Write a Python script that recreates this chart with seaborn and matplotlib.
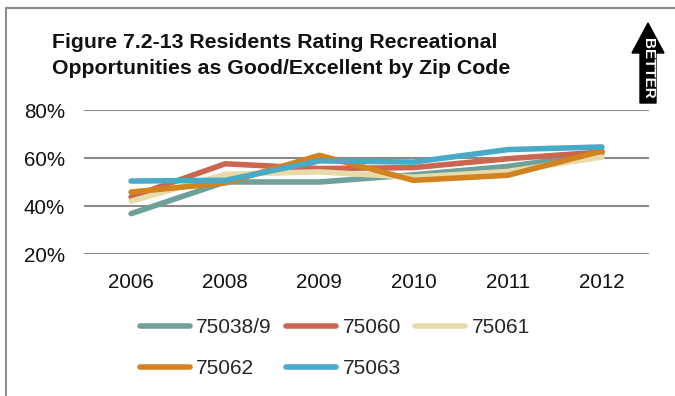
import matplotlib
matplotlib.use("Agg")
import matplotlib.pyplot as plt
from matplotlib.lines import Line2D
from matplotlib.patches import Polygon
import pandas as pd
import seaborn as sns

# Share of residents rating recreational opportunities good/excellent (%)
years = ["2006", "2008", "2009", "2010", "2011", "2012"]
zips = ["75038/9", "75060", "75061", "75062", "75063"]
r_75038_9 = [36.8, 50.0, 50.0, 53.0, 56.5, 61.8]
r_75060 = [43.8, 57.6, 55.6, 56.0, 59.7, 62.5]
r_75061 = [42.0, 53.2, 54.2, 52.0, 54.4, 60.4]
r_75062 = [45.8, 49.6, 61.1, 50.7, 52.8, 62.9]
r_75063 = [50.4, 50.7, 58.8, 58.3, 63.5, 64.6]
colors = ["#6FA09A", "#CB6650", "#E9DBA9", "#D2831F", "#48AAC6"]
yticks = [20, 40, 60, 80]

series = [r_75038_9, r_75060, r_75061, r_75062, r_75063]
df = pd.DataFrame(
    [(z, y, v) for z, vals in zip(zips, series) for y, v in zip(years, vals)],
    columns=["Zip", "Year", "Rating"],
)

sns.set_theme(style="white")
plt.rcParams["font.family"] = ["Liberation Sans", "DejaVu Sans"]

W, H = 675, 396
LW = 4.0
fig = plt.figure(figsize=(W / 100, H / 100), dpi=100)
ax = fig.add_axes([84 / W, 1 - 254 / H, (649 - 84) / W, (254 - 110) / H])

sns.lineplot(
    data=df, x="Year", y="Rating", hue="Zip", hue_order=zips,
    palette=colors, linewidth=LW, ax=ax, legend=False, sort=False,
    solid_capstyle="round",
)

ax.set_xlim(-0.5, len(years) - 0.5)
ax.set_ylim(20, 80)
ax.set_yticks(yticks)
ax.set_yticklabels([f"{t}%" for t in yticks])
ax.set_xlabel("")
ax.set_ylabel("")
for t in yticks:
    ax.axhline(t, color="#8A8A8A", linewidth=1.5, zorder=0)
for s in ax.spines.values():
    s.set_visible(False)
ax.tick_params(axis="y", length=0, pad=13.5, labelsize=14.8, labelcolor="#111111")
ax.tick_params(axis="x", length=0, pad=14, labelsize=14.8, labelcolor="#111111")

# Legend, filled row by row
handles = [Line2D([], [], color=c, linewidth=LW, solid_capstyle="round") for c in colors]
order = [0, 3, 1, 4, 2]
fig.legend(
    [handles[i] for i in order], [zips[i] for i in order],
    ncol=3, loc="upper left", bbox_to_anchor=(139.5 / W, 1 - 318 / H),
    frameon=False, fontsize=15, handlelength=2.4, handletextpad=0.32,
    columnspacing=0.67, labelspacing=1.05, borderpad=0, borderaxespad=0,
)

# Title
title_kw = dict(fontsize=15.3, fontweight="bold", color="#111111", va="baseline", ha="left")
fig.text(52 / W, 1 - 48.5 / H, "Figure 7.2-13 Residents Rating Recreational", **title_kw)
fig.text(52 / W, 1 - 73.5 / H, "Opportunities as Good/Excellent by Zip Code", **title_kw)

# "BETTER" arrow
arrow_pts = [(648, 23), (664, 53), (656, 53), (656, 103), (640, 103), (640, 53), (632, 53)]
fig.patches.append(Polygon([(x / W, 1 - y / H) for x, y in arrow_pts], closed=True,
                           facecolor="black", edgecolor="black",
                           transform=fig.transFigure, figure=fig))
fig.text(648 / W, 1 - 68 / H, "BETTER", rotation=-90, color="white", fontsize=11,
         fontweight="bold", ha="center", va="center")

# Frame around the figure
fig.add_artist(Line2D([6 / W, 6 / W], [0, 1 - 8 / H], color="#8C8C8C", linewidth=1.5,
                      transform=fig.transFigure))
fig.add_artist(Line2D([6 / W, 1], [1 - 8 / H, 1 - 8 / H], color="#8C8C8C", linewidth=1.5,
                      transform=fig.transFigure))

fig.savefig("out.png", dpi=100)
